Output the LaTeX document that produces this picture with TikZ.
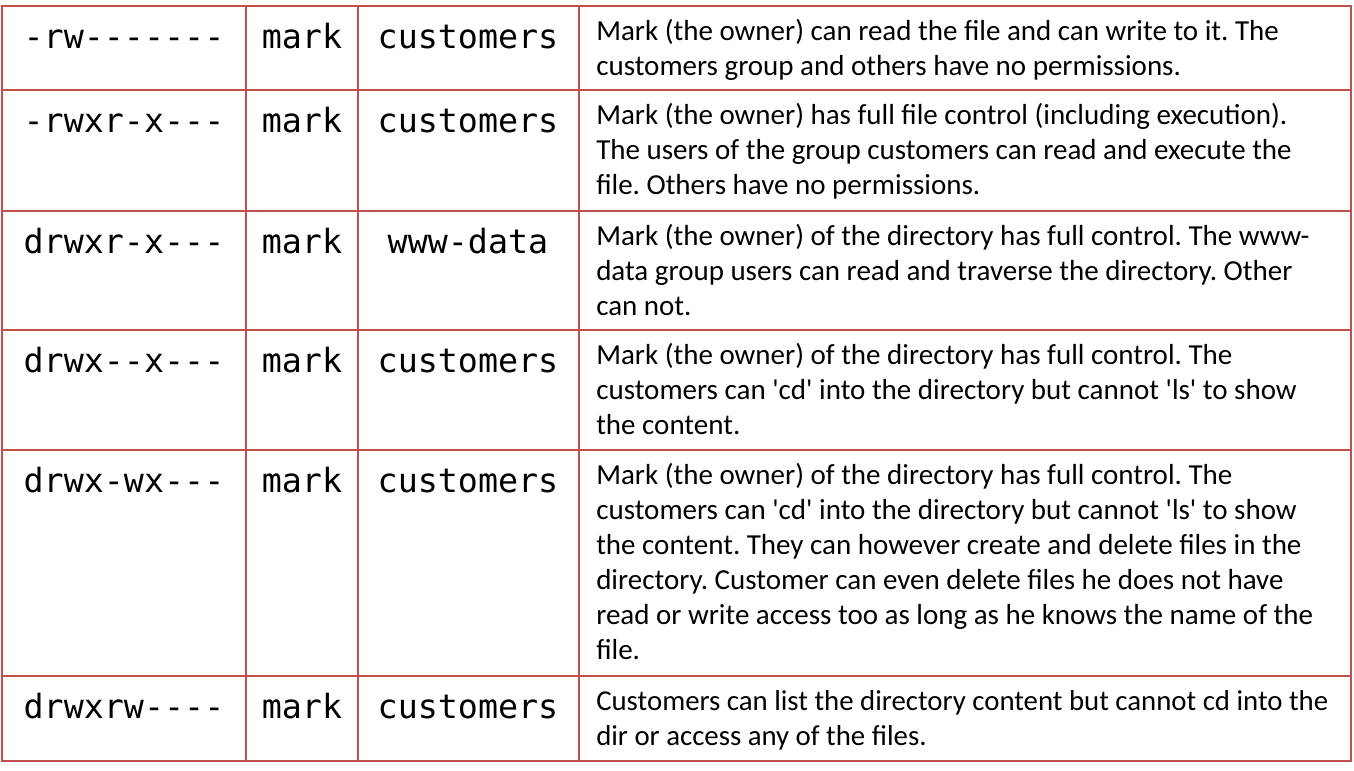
\documentclass[tikz,border=0pt]{standalone}
\usepackage{fontspec}
\setmainfont{Carlito}
\setmonofont{DejaVu Sans Mono}
\definecolor{gridred}{RGB}{192,80,77}
\newcommand\dstrut{\rule{0pt}{21pt}}
\frenchspacing

\begin{document}
\begin{tikzpicture}[x=0.75pt,y=-0.75pt]
\tikzset{grid/.style={gridred,line width=1.5pt},
  perm/.style={font=\ttfamily\fontsize{25pt}{30pt}\selectfont,anchor=base,inner sep=0pt},
  desc/.style={font=\fontsize{21.75pt}{26.25pt}\selectfont,anchor=north west,inner sep=0pt,align=left}}
\useasboundingbox (0,0) rectangle (1354,771);
% table lines
\draw[grid] (2,6) rectangle (1351,761);
\foreach \y in {90,211,330,450,676} \draw[grid] (2,\y) -- (1351,\y);
\foreach \x in {246,358,579} \draw[grid] (\x,6) -- (\x,761);
% permissions, owner, group
\foreach \top/\perm/\grp/\n in {6/-rw-------/customers/1,90/-rwxr-x---/customers/2,
  211/drwxr-x---/www-data/3,330/drwx--x---/customers/4,450/drwx-wx---/customers/5,
  676/drwxrw----/customers/6}{
  \node[perm] (perm\n) at (124,\top+42) {\perm};
  \node[perm] (owner\n) at (302,\top+42) {mark};
  \node[perm] (group\n) at (468,\top+42) {\grp};
}
% descriptions
\node[desc] (desc1) at (596,12) {\dstrut Mark (the owner) can read the file and can write to it. The\\
  customers group and others have no permissions.};
\node[desc] (desc2) at (596,96) {\dstrut Mark (the owner) has full file control (including execution).\\
  The users of the group customers can read and execute the\\
  file. Others have no permissions.};
\node[desc] (desc3) at (596,217) {\dstrut Mark (the owner) of the directory has full control. The www-\\
  data group users can read and traverse the directory. Other\\
  can not.};
\node[desc] (desc4) at (596,336) {\dstrut Mark (the owner) of the directory has full control. The\\
  customers can \textquotesingle cd\textquotesingle{} into the directory but cannot \textquotesingle ls\textquotesingle{} to show\\
  the content.};
\node[desc] (desc5) at (596,456) {\dstrut Mark (the owner) of the directory has full control. The\\
  customers can \textquotesingle cd\textquotesingle{} into the directory but cannot \textquotesingle ls\textquotesingle{} to show\\
  the content. They can however create and delete files in the\\
  directory. Customer can even delete files he does not have\\
  read or write access too as long as he knows the name of the\\
  file.};
\node[desc,font=\fontsize{21.6pt}{26.25pt}\selectfont] (desc6) at (596,682) {\dstrut Customers can list the directory content but cannot cd into the\\
  dir or access any of the files.};
\end{tikzpicture}
\end{document}
